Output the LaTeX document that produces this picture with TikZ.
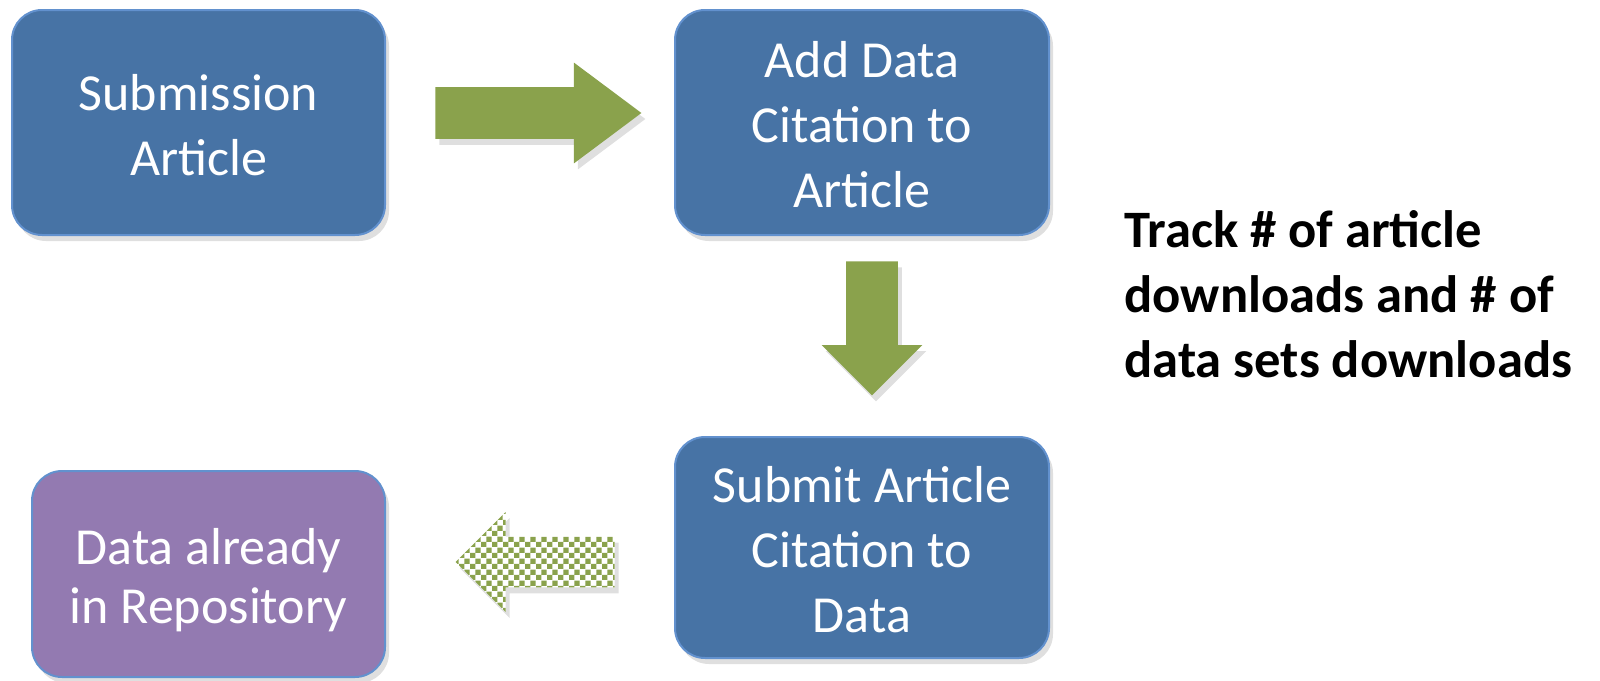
\documentclass[tikz,border=0pt]{standalone}
\usepackage{fontspec}
\setmainfont{Carlito}
\usetikzlibrary{shapes.arrows,shadows,patterns}

\definecolor{boxblue}{RGB}{71,115,165}
\definecolor{boxedge}{RGB}{98,145,206}
\definecolor{boxpurple}{RGB}{147,122,177}
\definecolor{arrowgreen}{RGB}{138,162,76}

\newcommand{\tophold}{\rule{0pt}{1em}}
\newcommand{\bothold}{\rule[-0.22em]{0pt}{0.22em}}

\pgfdeclarepatternformonly{bigchecks}{\pgfpointorigin}{\pgfqpoint{5.6pt}{5.6pt}}{\pgfqpoint{5.6pt}{5.6pt}}{%
  \pgfpathrectangle{\pgfpointorigin}{\pgfqpoint{2.8pt}{2.8pt}}%
  \pgfpathrectangle{\pgfqpoint{2.8pt}{2.8pt}}{\pgfqpoint{2.8pt}{2.8pt}}%
  \pgfusepath{fill}}

\begin{document}
\begin{tikzpicture}[x=0.5pt,y=-0.5pt,
    stepbox/.style={rectangle, rounded corners=15pt, draw=boxedge, line width=1pt,
        fill=boxblue, text=white, align=center, inner sep=0pt,
        font=\fontsize{26}{32.5}\selectfont,
        drop shadow={opacity=0.25, shadow xshift=2pt, shadow yshift=-3pt}},
    blockarrow/.style={single arrow, anchor=tail, inner sep=12.75pt,
        single arrow head extend=12.25pt,
        drop shadow={opacity=0.25, shadow xshift=2pt, shadow yshift=-3pt}}]
    \useasboundingbox (0,0) rectangle (1600,680);

    \node[stepbox, minimum width=186.5pt, minimum height=112.5pt] (submission) at (198.5,122.5) {\tophold Submission\\Article\bothold};
    \node[stepbox, minimum width=187pt, minimum height=112.5pt] (addcite) at (862,122.5) {\tophold Add Data\\Citation to\\Article\bothold};
    \node[stepbox, minimum width=187pt, minimum height=110.5pt] (submitcite) at (862,547.5) {\tophold Submit Article\\Citation to\\Data\bothold};
    \node[stepbox, fill=boxpurple, minimum width=176.5pt, minimum height=103pt,
        font=\fontsize{26}{29.5}\selectfont] (repo) at (208.5,574) {\tophold Data already\\in Repository\bothold};

    \node[blockarrow, fill=arrowgreen, minimum height=103pt, single arrow tip angle=73.5] (tocite) at (435,113) {};
    \node[blockarrow, fill=arrowgreen, minimum height=67pt, shape border rotate=270] (tosubmit) at (872,261) {};
    \node[blockarrow, preaction={fill=white}, pattern=bigchecks, pattern color=arrowgreen,
        inner sep=12.5pt, minimum height=79.5pt, shape border rotate=180] (torepo) at (615,562) {};

    \node[anchor=west, align=left, inner sep=0pt, font=\bfseries\fontsize{26.3}{32.5}\selectfont] (track) at (1124,294)
        {Track \# of article\\downloads and \# of\\data sets downloads};
\end{tikzpicture}
\end{document}
